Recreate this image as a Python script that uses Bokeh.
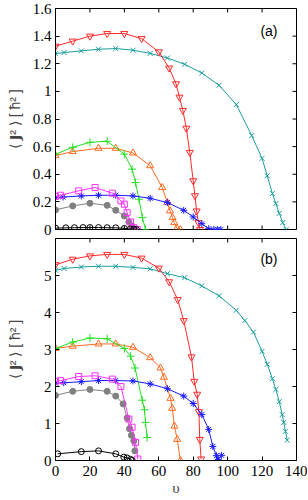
import math
from bokeh.plotting import figure
from bokeh.layouts import column
from bokeh.models import FixedTicker, Range1d, Label
from bokeh.embed import file_html
from bokeh.resources import INLINE

# ---------------- data ----------------
x_ticks = [0, 20, 40, 60, 80, 100, 120, 140]
x_tick_labels = ["0", "20", "40", "60", "80", "100", "120", "140"]
ya_ticks = [0, 0.2, 0.4, 0.6, 0.8, 1.0, 1.2, 1.4, 1.6]
ya_tick_labels = ["0", "0.2", "0.4", "0.6", "0.8", "1", "1.2", "1.4", "1.6"]
yb_ticks = [0, 1, 2, 3, 4, 5]
yb_tick_labels = ["0", "1", "2", "3", "4", "5"]

# panel (a)
a_red_v = [0, 10, 20, 30, 40, 50, 60, 66, 70, 72, 74, 76, 78, 80, 81, 82, 83, 84]
a_red_j = [1.327, 1.364, 1.400, 1.419, 1.419, 1.382, 1.286, 1.169, 1.055, 0.958, 0.862, 0.733, 0.558, 0.353, 0.244, 0.134, 0.05, 0.0]
a_teal_v = [0, 5, 15, 25, 35, 45, 55, 65, 75, 85, 95, 105, 114, 120, 123, 126, 128, 130, 132, 134]
a_teal_j = [1.273, 1.281, 1.293, 1.305, 1.31, 1.298, 1.275, 1.242, 1.196, 1.133, 1.044, 0.905, 0.68, 0.515, 0.389, 0.26, 0.188, 0.117, 0.05, 0.0]
a_green_v = [0, 10, 20, 30, 40, 44.5, 46.5, 48.5, 50.5, 52.3]
a_green_j = [0.545, 0.595, 0.631, 0.639, 0.546, 0.437, 0.34, 0.219, 0.086, 0.0]
a_orange_v = [0, 10, 25, 35, 45, 55, 62, 65, 66.5, 68, 69, 70.5, 72.5]
a_orange_j = [0.535, 0.564, 0.588, 0.588, 0.554, 0.462, 0.304, 0.195, 0.135, 0.086, 0.05, 0.01, 0.0]
a_magenta_v = [0, 3, 13.5, 23, 33, 38, 40, 41.6, 43.6, 45.5, 47.5]
a_magenta_j = [0.24, 0.248, 0.28, 0.304, 0.263, 0.207, 0.183, 0.122, 0.055, 0.013, 0.0]
a_blue_v = [0, 4.4, 15, 25, 35, 45, 55, 65, 74.5, 80, 85, 89, 92, 94, 96]
a_blue_j = [0.231, 0.235, 0.243, 0.248, 0.248, 0.243, 0.226, 0.195, 0.139, 0.091, 0.042, 0.006, 0.0, 0.0, 0.0]
a_gray_v = [0, 10, 20, 30, 35, 40, 42.6, 44.5, 46]
a_gray_j = [0.142, 0.171, 0.19, 0.175, 0.139, 0.098, 0.055, 0.025, 0.0]
a_black_v = [0, 6, 11, 16, 20, 25, 30, 35, 40, 43.5, 45.5, 47]
a_black_j = [0.01, 0.012, 0.013, 0.014, 0.014, 0.014, 0.013, 0.012, 0.008, 0.004, 0.002, 0.0]

# panel (b)
b_red_v = [0, 10, 20, 30, 40, 50, 60, 66, 71, 74.5, 79, 80.6, 82.3, 83.3, 83.8, 84.6]
b_red_j = [5.29, 5.44, 5.53, 5.57, 5.57, 5.47, 5.2, 4.83, 4.35, 3.78, 2.80, 2.14, 1.79, 1.32, 0.57, 0.04]
b_teal_v = [0, 5, 15, 25, 35, 45, 55, 65, 75, 85, 95, 105, 110, 115, 120, 123, 126, 128, 130, 131.7, 132.6, 133.6, 134.6]
b_teal_j = [5.14, 5.19, 5.23, 5.25, 5.25, 5.22, 5.18, 5.05, 4.94, 4.72, 4.45, 4.06, 3.78, 3.47, 2.95, 2.6, 2.21, 1.92, 1.59, 1.24, 1.03, 0.79, 0.55]
b_green_v = [0, 10, 20, 30, 40, 43.6, 46.2, 50.4, 51.7, 52.3, 53.2]
b_green_j = [3.03, 3.2, 3.31, 3.29, 3.03, 2.82, 2.5, 1.63, 1.37, 1.03, 0.62]
b_orange_v = [0, 10, 25, 35, 45, 55, 61, 63, 66.8, 67.8, 69.1, 70.7, 72.6]
b_orange_j = [3.03, 3.09, 3.15, 3.15, 3.06, 2.78, 2.5, 2.25, 1.68, 1.41, 0.93, 0.57, 0.0]
b_magenta_v = [0, 3, 13.5, 23, 33, 38, 42.6, 44.5, 46.5, 47.8]
b_magenta_j = [2.14, 2.16, 2.27, 2.29, 2.2, 2.0, 1.12, 0.9, 0.49, 0.04]
b_blue_v = [0, 4.8, 15, 25, 35, 45, 55, 65, 74.5, 80, 85, 89, 91.4, 93.5, 94.5, 96.5]
b_blue_j = [2.09, 2.10, 2.13, 2.16, 2.16, 2.15, 2.07, 1.94, 1.74, 1.54, 1.24, 0.84, 0.38, 0.13, 0.03, 0.14]
b_gray_v = [0, 10, 20, 30, 35, 39.3, 41.6, 43, 44.1, 45.5, 46.1]
b_gray_j = [1.76, 1.87, 1.92, 1.87, 1.74, 1.53, 1.15, 0.86, 0.68, 0.53, 0.26]
b_black_v = [1.3, 15, 25, 35, 39.7, 41.6, 43.6, 44.5]
b_black_j = [0.18, 0.24, 0.26, 0.18, 0.09, 0.07, 0.03, 0.0]

# ---------------- styles ----------------
STYLES = {
    "red":     dict(color="#ff2a2a", marker="inverted_triangle", size=7, filled=False),
    "teal":    dict(color="#1a9e9e", marker="x", size=7, filled=False),
    "green":   dict(color="#22e022", marker="cross", size=8, filled=False),
    "orange":  dict(color="#ff6a20", marker="triangle", size=7, filled=False),
    "magenta": dict(color="#ff30ff", marker="square", size=6, filled=False),
    "blue":    dict(color="#1a1aff", marker="asterisk", size=7, filled=False),
    "gray":    dict(color="#808080", marker="circle", size=6, filled=True),
    "black":   dict(color="#000000", marker="circle", size=6, filled=False),
}

panel_a = [
    ("teal", a_teal_v, a_teal_j), ("red", a_red_v, a_red_j),
    ("orange", a_orange_v, a_orange_j), ("green", a_green_v, a_green_j),
    ("blue", a_blue_v, a_blue_j), ("gray", a_gray_v, a_gray_j),
    ("magenta", a_magenta_v, a_magenta_j), ("black", a_black_v, a_black_j),
]
panel_b = [
    ("teal", b_teal_v, b_teal_j), ("red", b_red_v, b_red_j),
    ("orange", b_orange_v, b_orange_j), ("green", b_green_v, b_green_j),
    ("blue", b_blue_v, b_blue_j), ("gray", b_gray_v, b_gray_j),
    ("magenta", b_magenta_v, b_magenta_j), ("black", b_black_v, b_black_j),
]

SERIF = "Liberation Serif"
SANS = "Liberation Sans"
YLABEL = "\u27e8 \U0001D5DD\u00b2 \u27e9 [ \u0127\u00b2 ]"
X_END = 140
TICK = 4


def style_axis(ax, ticks, labels):
    ax.ticker = FixedTicker(ticks=ticks)
    ax.major_tick_in = TICK
    ax.major_tick_out = 0
    ax.minor_tick_line_color = None
    ax.axis_line_color = "black"
    ax.major_tick_line_color = "black"
    ax.major_label_overrides = {t: s for t, s in zip(ticks, labels)}
    ax.major_label_text_font = SERIF
    ax.major_label_text_font_size = "15px"
    ax.major_label_text_color = "black"
    ax.major_label_standoff = 4


def mirror_ticks(p, xs, ys, angle):
    p.ray(x=xs, y=ys, length=TICK, length_units="screen", angle=angle,
          line_color="black", line_width=1)


def make_panel(series, y_end, yticks, ylabels, xlabels, frame_h, mb_top, mb_bottom,
               ylab_standoff, tag, tag_y):
    p = figure(output_backend="svg", toolbar_location=None,
               frame_width=241, frame_height=frame_h,
               x_range=Range1d(0, X_END), y_range=Range1d(0, y_end),
               x_axis_location="below" if xlabels else None,
               min_border_left=55, min_border_right=11,
               min_border_top=mb_top, min_border_bottom=mb_bottom)
    p.grid.visible = False
    p.outline_line_color = "black"
    p.background_fill_color = "white"
    p.border_fill_color = "white"

    yax = p.yaxis[0]
    style_axis(yax, yticks, ylabels)
    yax.axis_label = YLABEL
    yax.axis_label_text_font = SANS
    yax.axis_label_text_font_size = "14px"
    yax.axis_label_text_font_style = "normal"
    yax.axis_label_standoff = ylab_standoff

    if xlabels:
        xax = p.xaxis[0]
        style_axis(xax, x_ticks, x_tick_labels)
        xax.major_label_standoff = 5
        xax.axis_label = "\u03c5"
        xax.axis_label_text_font = SERIF
        xax.axis_label_text_font_size = "15px"
        xax.axis_label_text_font_style = "normal"
        xax.axis_label_standoff = 1
    else:
        mirror_ticks(p, x_ticks, [0] * len(x_ticks), math.pi / 2)

    # mirrored ticks on top and right edges
    mirror_ticks(p, x_ticks, [y_end] * len(x_ticks), -math.pi / 2)
    mirror_ticks(p, [X_END] * len(yticks), yticks, math.pi)

    for name, v, j in series:
        st = STYLES[name]
        p.line(v, j, line_color=st["color"], line_width=1)
        p.scatter(v, j, marker=st["marker"], size=st["size"],
                  line_color=st["color"], line_width=1,
                  fill_color=st["color"] if st["filled"] else None)

    p.add_layout(Label(x=124, y=tag_y, text=tag, text_align="center",
                       text_baseline="middle", text_font=SANS,
                       text_font_size="14px", text_color="black"))
    return p


p1 = make_panel(panel_a, 1.6, ya_ticks, ya_tick_labels, False, 221, 8, 8, 7, "(a)", 1.44)
p2 = make_panel(panel_b, 6.0, yb_ticks, yb_tick_labels, True, 222, 1, 5, 18, "(b)", 5.45)

layout = column(p1, p2, spacing=0)
open("out.html", "w").write(file_html(layout, INLINE))
